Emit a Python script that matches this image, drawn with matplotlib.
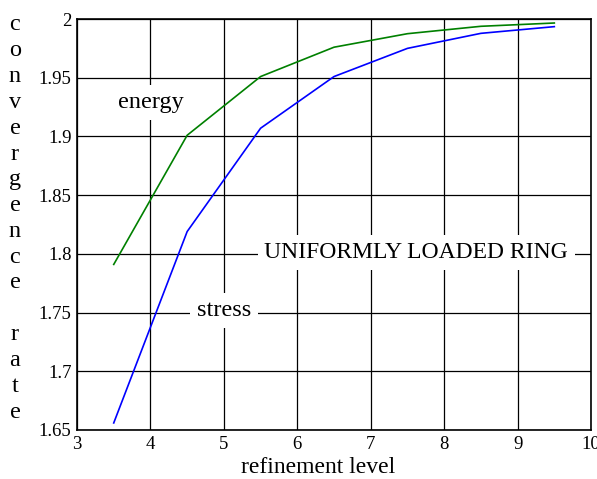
import matplotlib
matplotlib.use('Agg')
from matplotlib import pyplot as plt

# refinement levels and measured convergence rates
levels = [3.5, 4.5, 5.5, 6.5, 7.5, 8.5, 9.5]
energy_rate = [1.791, 1.901, 1.951, 1.976, 1.9875, 1.9938, 1.9966]
stress_rate = [1.656, 1.819, 1.907, 1.951, 1.975, 1.9878, 1.9935]

x_ticks = [3, 4, 5, 6, 7, 8, 9, 10]
y_ticks = [1.65, 1.7, 1.75, 1.8, 1.85, 1.9, 1.95, 2.0]
y_tick_labels = ['1.65', '1.7', '1.75', '1.8', '1.85', '1.9', '1.95', '2']

plt.rcParams['font.family'] = ['Liberation Serif', 'DejaVu Serif']

fig = plt.figure(figsize=(5.97, 4.79), dpi=100)
ax = fig.add_axes([0.129, 0.1023, 0.861, 0.858])

ax.plot(levels, energy_rate, color='green', lw=1.2, zorder=3)
ax.plot(levels, stress_rate, color='blue', lw=1.2, zorder=3)

ax.set_xlim(3, 10)
ax.set_ylim(1.65, 2.0)
ax.set_xticks(x_ticks)
ax.set_yticks(y_ticks)
ax.set_yticklabels(y_tick_labels)
ax.tick_params(length=0, labelsize=13.5, pad=4)
ax.grid(True, color='black', lw=0.9)
ax.set_axisbelow(True)
for s in ax.spines.values():
    s.set_linewidth(1.2)

ax.set_xlabel('refinement level', fontsize=17)
# label sits a little left of the axes centre
ax.xaxis.set_label_coords((318 - 77) / 514, -0.065)

box = dict(facecolor='white', edgecolor='none', pad=5)
ax.text(4.0, 1.929, 'energy', fontsize=17.5, ha='center', va='center', bbox=box, zorder=2)
ax.text(5.0, 1.752, 'stress', fontsize=17.5, ha='center', va='center', bbox=box, zorder=2)
ax.text(7.62, 1.801, 'UNIFORMLY LOADED RING', fontsize=17, ha='center', va='center',
        bbox=box, zorder=2)

# vertical stacked y label
label = 'convergence rate'
top_px, step_px = 25, 25.8
for i, ch in enumerate(label):
    if ch == ' ':
        continue
    fig.text(15 / 597, 1 - (top_px + i * step_px) / 479, ch, fontsize=17.5,
             ha='center', va='center')

fig.savefig('out.png', dpi=100)
